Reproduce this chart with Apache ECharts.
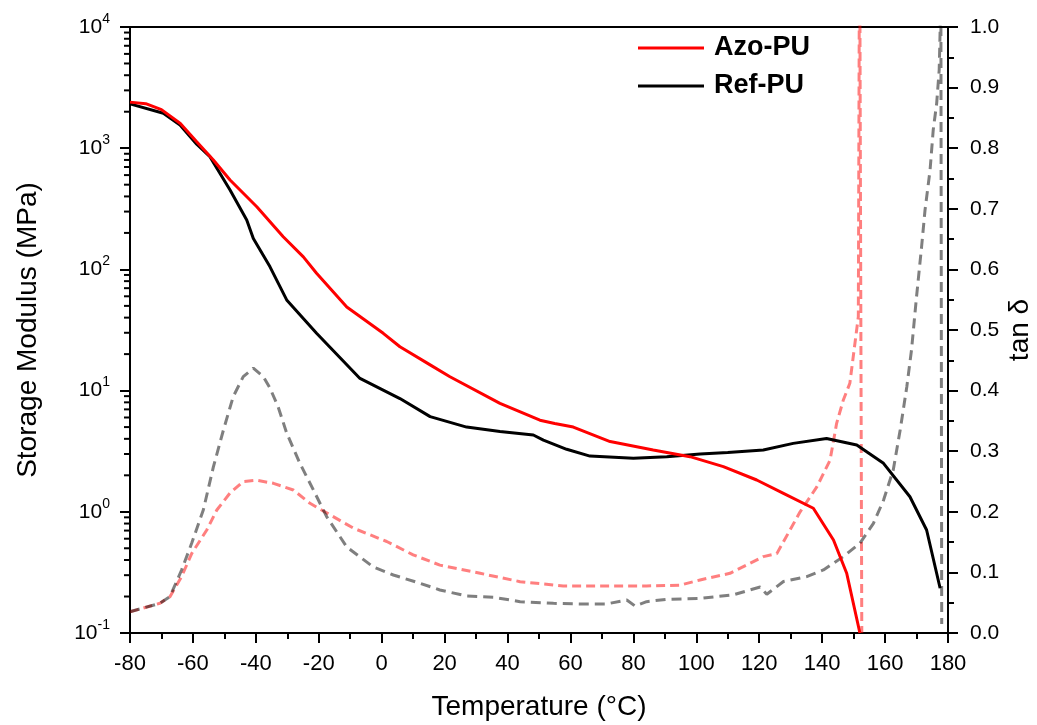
<!DOCTYPE html>
<html>
<head>
<meta charset="utf-8">
<script src="https://cdn.jsdelivr.net/npm/echarts@6/dist/echarts.min.js"></script>
<style>
html,body{margin:0;padding:0;background:#fff;}
#chart{width:1037px;height:725px;}
</style>
</head>
<body>
<div id="chart"></div>
<script>
// ---- Data ----
const azoModT = [-80, -75, -70, -64, -58.8, -53.5, -48.2, -39.7, -31.3, -24.9, -20.7, -11.1, 0.5, 5.8, 15.4, 21.7, 37.6, 50.3, 55, 60.9, 72.6, 86.3, 98, 108.6, 119.2, 127.7, 137.2, 143.6, 147.8, 152];
const azoModE = [2400, 2330, 2080, 1600, 1130, 800, 547, 329, 186, 127, 93, 49, 29.7, 23, 16.3, 13, 7.85, 5.7, 5.35, 5.0, 3.8, 3.24, 2.85, 2.36, 1.83, 1.42, 1.07, 0.585, 0.311, 0.1];

const refModT = [-80, -69.4, -64.1, -58.8, -54.6, -48.2, -42.9, -40.8, -35.5, -30.2, -20.7, -6.9, 5.8, 15.4, 27, 37.6, 48.2, 51.4, 58.8, 66.2, 80, 90.6, 101.2, 110, 121.3, 130.8, 141.4, 151, 159.5, 167.9, 173.2, 177.5];
const refModE = [2320, 1940, 1550, 1080, 851, 452, 256, 180, 105, 56, 29.7, 12.6, 8.6, 6.1, 5.0, 4.6, 4.3, 3.9, 3.28, 2.88, 2.76, 2.85, 3.0, 3.08, 3.24, 3.67, 4.03, 3.56, 2.51, 1.33, 0.708, 0.234];

const azoTanT = [-80, -70.5, -67.3, -63.6, -60.4, -55.6, -52.4, -48.2, -44, -39.7, -34.4, -28.1, -22.8, -16.4, -9, 1.6, 10, 18.5, 31.3, 44, 57.7, 73.6, 84.2, 94.8, 101.2, 110.7, 121.3, 125.6, 133, 138.3, 142.5, 144.6, 146.7, 148.8, 151.5, 151.9, 152.2, 152.6];
const azoTanV = [0.035, 0.049, 0.060, 0.093, 0.131, 0.170, 0.203, 0.231, 0.250, 0.252, 0.247, 0.236, 0.214, 0.195, 0.173, 0.151, 0.129, 0.112, 0.0985, 0.0847, 0.0776, 0.0776, 0.0776, 0.079, 0.0875, 0.0985, 0.126, 0.131, 0.2, 0.241, 0.285, 0.346, 0.384, 0.412, 0.522, 1.2, 1.2, 0.0];

const refTanT = [-80, -70.5, -67.3, -63.6, -60.4, -56.7, -53.5, -50.3, -47.2, -44, -40.8, -37.6, -35.5, -32.9, -30.2, -26, -21.7, -17.5, -11.1, -2.7, 3.7, 12.2, 18.5, 27, 35.5, 44, 54.6, 63, 71.5, 77.9, 80.5, 84.2, 90.6, 101.2, 111.8, 120.3, 122.4, 127.7, 135.1, 140.4, 146.7, 152, 156.3, 159.5, 162.6, 164.8, 166.9, 168.4, 170, 171.6, 172.7, 174.3, 175.3, 176.4, 177.2, 177.5, 177.7, 177.9, 178.0];
const refTanV = [0.035, 0.049, 0.060, 0.104, 0.148, 0.203, 0.274, 0.335, 0.390, 0.423, 0.437, 0.423, 0.404, 0.373, 0.330, 0.280, 0.236, 0.192, 0.142, 0.109, 0.0957, 0.082, 0.071, 0.061, 0.059, 0.0517, 0.049, 0.048, 0.048, 0.0545, 0.0446, 0.0517, 0.0556, 0.057, 0.063, 0.076, 0.064, 0.085, 0.093, 0.104, 0.126, 0.148, 0.181, 0.219, 0.269, 0.335, 0.406, 0.467, 0.555, 0.637, 0.698, 0.764, 0.830, 0.874, 0.929, 0.995, 1.2, 1.2, 0.015];

const seriesNames = ['Azo-PU', 'Ref-PU'];
const logMinorTicks = [0.2,0.3,0.4,0.5,0.6,0.7,0.8,0.9, 2,3,4,5,6,7,8,9, 20,30,40,50,60,70,80,90, 200,300,400,500,600,700,800,900, 2000,3000,4000,5000,6000,7000,8000,9000];

// ---- Chart ----
const zip = (a, b) => a.map((t, i) => [t, b[i]]);
const FONT = '"Liberation Sans", Arial, sans-serif';
const chart = echarts.init(document.getElementById('chart'), null, {renderer: 'canvas'});

const lineAxis = {show: true, onZero: false, lineStyle: {color: '#000', width: 2}};

chart.setOption({
  animation: false,
  backgroundColor: '#fff',
  textStyle: {fontFamily: FONT, color: '#000'},
  grid: {left: 130, right: 89, top: 27, bottom: 92, containLabel: false, outerBoundsMode: 'none'},
  legend: {
    data: seriesNames,
    orient: 'vertical',
    left: 638, top: 34, padding: 0,
    icon: 'rect',
    itemWidth: 66, itemHeight: 3, itemGap: 10,
    textStyle: {fontFamily: FONT, fontSize: 27, fontWeight: 'bold', color: '#000', lineHeight: 28, padding: [0, 0, 0, 5]},
    selectedMode: false
  },
  xAxis: [{
    type: 'value', min: -80, max: 180, interval: 20, position: 'bottom',
    axisLine: lineAxis,
    axisTick: {show: true, inside: false, length: 10, lineStyle: {color: '#000', width: 2}},
    minorTick: {show: true, splitNumber: 2, length: 6, lineStyle: {color: '#000', width: 2}},
    splitLine: {show: false}, minorSplitLine: {show: false},
    axisLabel: {fontFamily: FONT, fontSize: 22, color: '#000', margin: 20},
    name: 'Temperature (°C)', nameLocation: 'middle', nameGap: 60, nameMoveOverlap: false,
    nameTextStyle: {fontFamily: FONT, fontSize: 28, color: '#000'}
  }, {
    type: 'value', min: -80, max: 180, position: 'top',
    axisLine: lineAxis, axisTick: {show: false}, axisLabel: {show: false}, splitLine: {show: false}
  }],
  yAxis: [{
    type: 'log', logBase: 10, min: 0.1, max: 10000, position: 'left',
    axisLine: lineAxis,
    axisTick: {show: true, inside: false, length: 10, lineStyle: {color: '#000', width: 2}},
    splitLine: {show: false},
    axisLabel: {
      margin: 20, color: '#000',
      formatter: function (v) { const e = Math.round(Math.log10(v)); return '{b|10}{s|' + e + '}'; },
      rich: {
        b: {fontFamily: FONT, fontSize: 21, lineHeight: 30, color: '#000'},
        s: {fontFamily: FONT, fontSize: 14, lineHeight: 14, verticalAlign: 'top', color: '#000'}
      }
    },
    name: 'Storage Modulus (MPa)', nameLocation: 'middle', nameGap: 88, nameRotate: 90, nameMoveOverlap: false,
    nameTextStyle: {fontFamily: FONT, fontSize: 28, color: '#000'}
  }, {
    type: 'value', min: 0, max: 1, interval: 0.1, position: 'right',
    axisLine: lineAxis,
    axisTick: {show: true, inside: false, length: 10, lineStyle: {color: '#000', width: 2}},
    minorTick: {show: true, splitNumber: 2, length: 6, lineStyle: {color: '#000', width: 2}},
    splitLine: {show: false}, minorSplitLine: {show: false},
    axisLabel: {fontFamily: FONT, fontSize: 21, color: '#000', margin: 22, formatter: v => v.toFixed(1)},
    name: 'tan δ', nameLocation: 'middle', nameGap: 58, nameRotate: 90, nameMoveOverlap: false,
    nameTextStyle: {fontFamily: FONT, fontSize: 28, color: '#000'}
  }],
  series: [{
    name: 'Azo-PU tan δ', type: 'line', yAxisIndex: 1, data: zip(azoTanT, azoTanV),
    showSymbol: false, symbol: 'none', clip: true, z: 1,
    lineStyle: {color: 'rgba(255,0,0,0.5)', width: 3, type: [9, 5]}
  }, {
    name: 'Ref-PU tan δ', type: 'line', yAxisIndex: 1, data: zip(refTanT, refTanV),
    showSymbol: false, symbol: 'none', clip: true, z: 1,
    lineStyle: {color: 'rgba(0,0,0,0.5)', width: 3, type: [10, 6]}
  }, {
    name: 'Ref-PU', type: 'line', yAxisIndex: 0, data: zip(refModT, refModE),
    showSymbol: false, symbol: 'none', clip: true, z: 2,
    itemStyle: {color: '#000'},
    lineStyle: {color: '#000', width: 3}
  }, {
    name: 'Azo-PU', type: 'line', yAxisIndex: 0, data: zip(azoModT, azoModE),
    showSymbol: false, symbol: 'none', clip: true, z: 3,
    itemStyle: {color: '#ff0000'},
    lineStyle: {color: '#ff0000', width: 3}
  }, {
    // logarithmic minor ticks of the left axis, placed through the log scale
    name: 'log minor ticks', type: 'custom', yAxisIndex: 0, silent: true, clip: false, z: 5,
    data: logMinorTicks.map(v => [-80, v]),
    renderItem: function (params, api) {
      const p = api.coord([api.value(0), api.value(1)]);
      return {type: 'line', shape: {x1: p[0] - 6, y1: p[1], x2: p[0], y2: p[1]},
              style: {stroke: '#000', lineWidth: 2}};
    }
  }]
});
</script>
</body>
</html>
